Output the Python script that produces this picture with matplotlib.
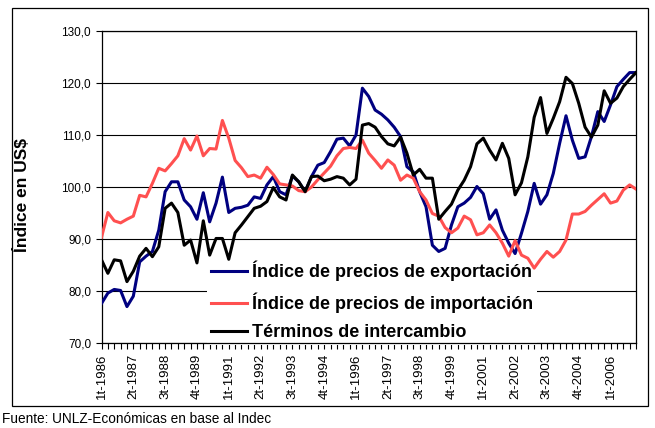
import matplotlib
matplotlib.use("Agg")
import matplotlib.pyplot as plt
from matplotlib.patches import Rectangle

plt.rcParams['font.family'] = ['Liberation Sans', 'DejaVu Sans']

# Trimestres 1t-1986 ... 1t-2007
trimestres = [f"{q}t-{1986 + k // 4}" for k, q in enumerate([1, 2, 3, 4] * 22)][:85]

# Índice de precios de exportación
exportacion = [77.6, 79.6, 80.3, 80.1, 77.0, 79.0, 85.6, 86.7, 87.6, 91.7,
               99.1, 101.0, 101.0, 97.5, 96.2, 93.8, 98.9, 93.3, 96.9, 101.9,
               95.1, 95.9, 96.1, 96.5, 98.1, 97.8, 100.4, 102.0, 99.1, 98.5,
               102.1, 101.0, 99.1, 102.0, 104.2, 104.7, 106.8, 109.2, 109.4, 107.9,
               110.0, 119.0, 117.4, 114.8, 114.0, 112.9, 111.5, 109.7, 103.9, 102.9,
               99.1, 96.2, 88.8, 87.6, 88.2, 92.7, 96.2, 96.9, 98.0, 100.1,
               98.7, 93.8, 95.6, 91.7, 89.2, 87.2, 91.1, 95.3, 100.7, 96.7,
               98.5, 102.6, 108.4, 113.7, 109.0, 105.5, 105.8, 109.7, 114.5, 112.6,
               115.8, 119.3, 120.7, 122.0, 122.0][:85]

# Índice de precios de importación
importacion = [90.3, 95.1, 93.5, 93.1, 93.8, 94.4, 98.4, 98.1, 100.7, 103.6,
               103.1, 104.5, 106.0, 109.3, 107.1, 109.8, 106.0, 107.4, 107.3, 112.8,
               109.4, 105.1, 103.7, 102.0, 102.3, 101.7, 103.8, 102.4, 100.6, 100.4,
               100.2, 99.3, 99.1, 100.0, 101.4, 102.7, 104.0, 106.0, 107.4, 107.6,
               107.4, 109.0, 106.5, 105.1, 103.6, 105.2, 104.2, 101.3, 102.3, 101.7,
               99.1, 97.5, 94.9, 94.4, 92.2, 91.2, 92.1, 94.4, 93.7, 90.8,
               91.2, 92.7, 91.2, 89.2, 86.7, 89.7, 86.9, 86.3, 84.4, 86.1,
               87.6, 86.5, 87.6, 89.8, 94.8, 94.8, 95.3, 96.5, 97.6, 98.7,
               96.9, 97.3, 99.4, 100.4, 99.6]

# Términos de intercambio
terminos = [86.0, 83.4, 86.0, 85.8, 81.8, 83.8, 86.7, 88.2, 86.6, 88.5,
            95.9, 96.9, 95.1, 88.8, 89.8, 85.4, 93.5, 86.9, 90.1, 90.1,
            86.1, 91.2, 92.7, 94.3, 95.9, 96.3, 97.2, 99.9, 98.1, 97.5,
            102.3, 101.0, 99.1, 102.0, 102.1, 101.2, 101.5, 102.0, 101.7, 100.4,
            101.5, 111.9, 112.2, 111.5, 109.7, 108.3, 107.9, 109.6, 106.5, 102.3,
            103.4, 101.7, 101.7, 93.8, 95.3, 96.7, 99.4, 101.3, 103.9, 108.3,
            109.4, 107.1, 105.2, 108.4, 105.5, 98.5, 100.8, 105.8, 113.4, 117.2,
            110.3, 113.2, 116.4, 121.1, 119.9, 116.1, 111.5, 109.6, 111.9, 118.5,
            116.1, 117.1, 119.3, 120.7, 122.0]

n = min(len(exportacion), len(importacion), len(terminos))
x = list(range(n))

fig = plt.figure(figsize=(6.55, 4.28), dpi=100)
ax = fig.add_axes([101.5 / 655, 1 - 343 / 428, (636 - 101.5) / 655, (343 - 31) / 428])

# marco exterior del grafico
fig.patches.append(Rectangle((12 / 655, 1 - 406 / 428), 636 / 655, 398 / 428,
                             transform=fig.transFigure, fill=False, ec='black', lw=0.9))

ax.set_axisbelow(True)
ax.grid(axis='y', color='black', lw=0.8)
ax.plot(x, exportacion[:n], color='#000080', lw=2.2, label='Índice de precios de exportación', zorder=3)
ax.plot(x, importacion[:n], color='#FF5050', lw=2.2, label='Índice de precios de importación', zorder=3)
ax.plot(x, terminos[:n], color='black', lw=2.2, label='Términos de intercambio', zorder=3)

ax.set_xlim(0, n - 1)
ax.set_ylim(70, 130)
ax.set_yticks(range(70, 131, 10))
ax.set_yticklabels([f"{v},0" for v in range(70, 131, 10)], fontsize=8.5)
ax.set_xticks(x, minor=True)
ax.set_xticks(x[::5])
ax.set_xticklabels(trimestres[:n:5], rotation=90, fontsize=9.5)
ax.tick_params(axis='x', which='both', length=4, width=0.8, direction='out')
ax.tick_params(axis='y', length=4, width=0.8, direction='out')
for s in ax.spines.values():
    s.set_linewidth(0.9)

fig.text(22 / 655, 1 - 195 / 428, 'Índice en US$', rotation=90, fontsize=12.5,
         fontweight='bold', ha='center', va='center')

leg = ax.legend(loc='center left', bbox_to_anchor=((198 - 101.5) / 534.5, (343 - 301) / 312),
                frameon=True, fancybox=False, edgecolor='none', facecolor='white',
                framealpha=1, handlelength=2.0, handletextpad=0.3,
                labelspacing=0.62, borderpad=0.2,
                prop={'weight': 'bold', 'size': 13})
leg.set_zorder(2)

fig.text(2 / 655, 1 - 419 / 428, 'Fuente: UNLZ-Económicas en base al Indec',
         fontsize=9.8, ha='left', va='center')

fig.savefig('out.png', dpi=100)
